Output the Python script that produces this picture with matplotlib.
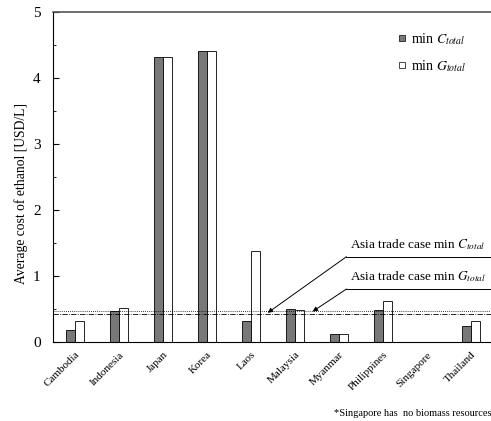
import numpy as np
import matplotlib
matplotlib.use('Agg')
import matplotlib.pyplot as plt
from matplotlib.lines import Line2D

plt.rcParams['font.family'] = ['Liberation Serif', 'DejaVu Serif']
plt.rcParams['mathtext.fontset'] = 'stix'

countries = ['Cambodia', 'Indonesia', 'Japan', 'Korea', 'Laos', 'Malaysia',
             'Myanmar', 'Philippines', 'Singapore', 'Thailand']
min_c = [0.18, 0.46, 4.31, 4.40, 0.31, 0.50, 0.12, 0.49, 0.0, 0.24]
min_g = [0.32, 0.51, 4.31, 4.40, 1.38, 0.49, 0.12, 0.62, 0.0, 0.31]
trade_c = 0.47
trade_g = 0.42

fig = plt.figure(figsize=(4.91, 4.21), dpi=100)
ax = fig.add_axes([0.108, 0.188, 0.896, 0.784])

x = np.arange(len(countries))
w = 0.2
ax.bar(x - w / 2, min_c, w, color='#787878', edgecolor='black', linewidth=0.6)
ax.bar(x + w / 2, min_g, w, color='white', edgecolor='black', linewidth=0.6)

ax.axhline(trade_c, color='black', linestyle=(0, (1, 1.5)), linewidth=0.6)
ax.axhline(trade_g, color='black', linestyle='-.', linewidth=0.6)

ax.set_xlim(-0.5, len(countries) - 0.5)
ax.set_ylim(0, 5)
ax.set_yticks([0, 1, 2, 3, 4, 5])
ax.set_yticks(np.arange(0.5, 5, 1), minor=True)
ax.tick_params(axis='y', direction='in', length=4, labelsize=11, pad=9)
ax.tick_params(axis='y', which='minor', direction='in', length=2)
ax.set_xticks(x)
ax.set_xticklabels(countries, rotation=45, ha='right', rotation_mode='anchor',
                   fontsize=8)
ax.tick_params(axis='x', length=0, pad=6)
ax.set_ylabel('Average cost of ethanol [USD/L]', fontsize=9.8)
ax.yaxis.set_label_coords(-0.058, 0.448)

ax.spines['top'].set_color('#555555')
ax.spines['top'].set_linewidth(1.2)

# annotations for trade-case lines
ax.text(6.26, 1.42, r'Asia trade case min $C_{total}$', fontsize=9.5)
ax.plot([6.17, 9.5], [1.29, 1.29], color='black', linewidth=0.7, clip_on=False)
ax.annotate('', xy=(4.38, trade_c - 0.03), xytext=(6.17, 1.29),
            arrowprops=dict(arrowstyle='-|>', color='black', lw=0.7,
                            mutation_scale=7, shrinkA=0, shrinkB=0))
ax.text(6.26, 0.94, r'Asia trade case min $G_{total}$', fontsize=9.5)
ax.plot([6.17, 9.5], [0.80, 0.80], color='black', linewidth=0.7, clip_on=False)
ax.annotate('', xy=(5.40, trade_c - 0.01), xytext=(6.17, 0.80),
            arrowprops=dict(arrowstyle='-|>', color='black', lw=0.7,
                            mutation_scale=7, shrinkA=0, shrinkB=0))

handles = [Line2D([], [], marker='s', linestyle='', markersize=5,
                  markerfacecolor='#787878', markeredgecolor='black', markeredgewidth=0.5),
           Line2D([], [], marker='s', linestyle='', markersize=5,
                  markerfacecolor='white', markeredgecolor='black', markeredgewidth=0.5)]
ax.legend(handles, [r'min $C_{total}$', r'min $G_{total}$'], loc='upper left',
          bbox_to_anchor=(0.745, 0.98), frameon=False, fontsize=10,
          handletextpad=0.1, labelspacing=0.8, handlelength=1.2)

fig.text(0.68, 0.012, '*Singapore has  no biomass resources', fontsize=7.5)

fig.savefig('out.png', dpi=100)
